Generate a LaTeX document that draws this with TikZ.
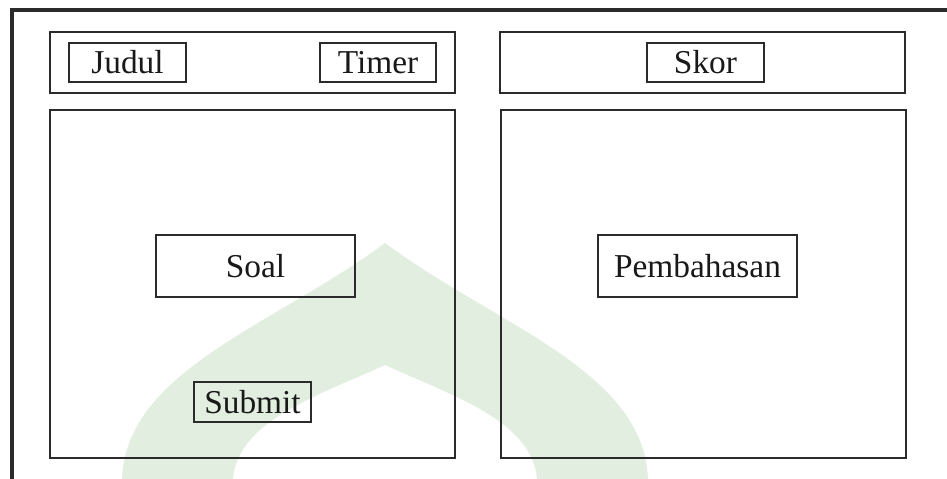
\documentclass[tikz,border=0pt]{standalone}
\usepackage{fontspec}
\setmainfont{Liberation Serif}
\usepackage{tikz}
\definecolor{domegreen}{HTML}{E2EFE0}
\definecolor{inkgray}{HTML}{2B2B2B}
\tikzset{
  frame/.style={draw=inkgray, line width=1.8pt},
  panel/.style={draw=inkgray, line width=0.7pt},
  box/.style={draw=inkgray, line width=0.7pt},
  txt/.style={font=\fontsize{19}{22}\selectfont, text=black!90, inner sep=0pt},
}

\begin{document}
\begin{tikzpicture}[x=0.02cm, y=-0.02cm]
  \useasboundingbox (0,0) rectangle (947,479);
  % dome shape in the background
  \fill[domegreen] (122,479) .. controls (126,370) and (275,325) .. (385,243)
    .. controls (495,325) and (644,370) .. (648,479) -- (537,479)
    .. controls (532,420) and (450,395) .. (385,365)
    .. controls (320,395) and (238,420) .. (233,479) -- cycle;
  % outer frame (left and top edge)
  \draw[frame] (12,479) -- (12,10) -- (947,10);
  % header panels
  \draw[panel] (50,32) rectangle (455,93);
  \draw[panel, line width=1pt] (500,32) rectangle (905,93);
  % content panels
  \draw[panel] (50,110) rectangle (455,458);
  \draw[panel] (501,110) rectangle (906,458);
  % labelled boxes
  \draw[box] (69,43) rectangle (186,82) node[midway, txt] (judul) {Judul};
  \draw[box] (320,43) rectangle (436,82) node[midway, txt] (timer) {Timer};
  \draw[box] (647,43) rectangle (764,82) node[midway, txt] (skor) {Skor};
  \draw[box] (156,235) rectangle (355,297) node[midway, txt] (soal) {Soal};
  \draw[box] (598,235) rectangle (797,297) node[midway, txt] (bahas) {Pembahasan};
  \draw[box] (194,382) rectangle (311,422) node[midway, txt] (submit) {Submit};
\end{tikzpicture}
\end{document}
